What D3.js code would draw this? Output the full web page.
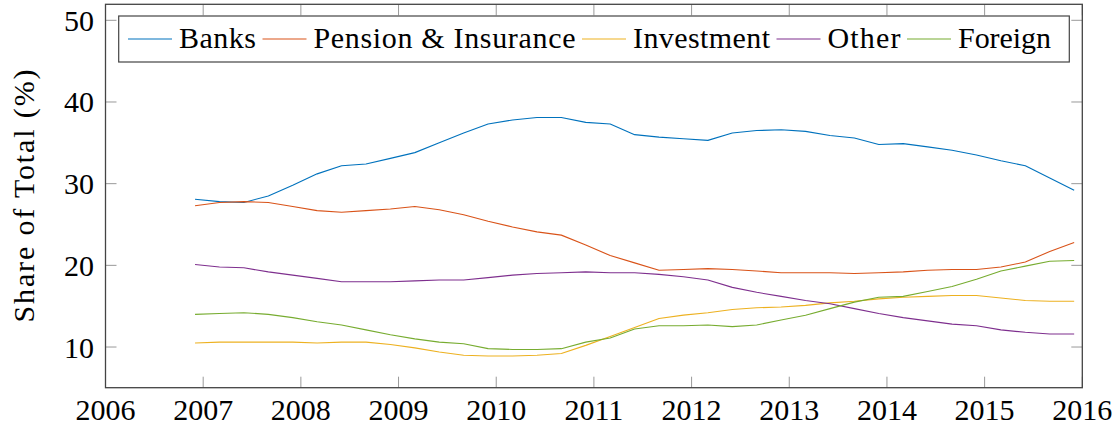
<!DOCTYPE html>
<html>
<head>
<meta charset="utf-8">
<script src="https://cdn.jsdelivr.net/npm/d3@7/dist/d3.min.js"></script>
<style>
  html, body { margin: 0; padding: 0; background: #fff; }
  svg { display: block; }
  text { font-family: "Liberation Serif", "Times New Roman", "DejaVu Serif", serif; }
</style>
</head>
<body>
<svg id="chart" width="1119" height="428"></svg>
<script>
// quarterly observations, Dec 2006 .. Dec 2015
const startYear = 2006 + 11 / 12;
const nQuarters = 37;

const banks = [28.1, 27.8, 27.7, 28.5, 29.8, 31.2, 32.2, 32.4, 33.1, 33.8, 35.0, 36.2, 37.3,
  37.8, 38.1, 38.1, 37.5, 37.3, 36.0, 35.7, 35.5, 35.3, 36.2, 36.5, 36.6, 36.4, 35.9, 35.6,
  34.8, 34.9, 34.5, 34.1, 33.5, 32.8, 32.2, 30.7, 29.2];
const pension = [27.3, 27.7, 27.8, 27.7, 27.2, 26.7, 26.5, 26.7, 26.9, 27.2, 26.8, 26.2, 25.4,
  24.7, 24.1, 23.7, 22.5, 21.2, 20.3, 19.4, 19.5, 19.6, 19.5, 19.3, 19.1, 19.1, 19.1, 19.0,
  19.1, 19.2, 19.4, 19.5, 19.5, 19.8, 20.4, 21.7, 22.8];
const investment = [10.5, 10.6, 10.6, 10.6, 10.6, 10.5, 10.6, 10.6, 10.3, 9.9, 9.4, 9.0, 8.9,
  8.9, 9.0, 9.2, 10.2, 11.3, 12.4, 13.5, 13.9, 14.2, 14.6, 14.8, 14.9, 15.1, 15.4, 15.6,
  15.9, 16.1, 16.2, 16.3, 16.3, 16.0, 15.7, 15.6, 15.6];
const other = [20.1, 19.8, 19.7, 19.2, 18.8, 18.4, 18.0, 18.0, 18.0, 18.1, 18.2, 18.2, 18.5,
  18.8, 19.0, 19.1, 19.2, 19.1, 19.1, 18.9, 18.6, 18.2, 17.3, 16.7, 16.2, 15.7, 15.3, 14.7,
  14.1, 13.6, 13.2, 12.8, 12.6, 12.1, 11.8, 11.6, 11.6];
const foreign = [14.0, 14.1, 14.2, 14.0, 13.6, 13.1, 12.7, 12.1, 11.5, 11.0, 10.6, 10.4, 9.8,
  9.7, 9.7, 9.8, 10.6, 11.1, 12.2, 12.6, 12.6, 12.7, 12.5, 12.7, 13.3, 13.9, 14.7, 15.5,
  16.1, 16.2, 16.8, 17.4, 18.3, 19.3, 19.9, 20.5, 20.6];

const seriesNames = ['Banks', 'Pension & Insurance', 'Investment', 'Other', 'Foreign'];
const seriesColors = ['#0072bd', '#d95319', '#edb120', '#7e2f8e', '#77ac30'];
const allSeries = [banks, pension, investment, other, foreign];

const xTicks = d3.range(2006, 2017);
const yTicks = [10, 20, 30, 40, 50];

const svg = d3.select('#chart');
const plot = { left: 105.5, right: 1082.3, top: 4.3, bottom: 387.7 };

const x = d3.scaleLinear().domain([2006, 2016]).range([plot.left, plot.right]);
const y = d3.scaleLinear().domain([5.02, 51.96]).range([plot.bottom, plot.top]);

const dates = d3.range(nQuarters).map(i => startYear + i * 0.25);

// ticks (inside, on all four sides)
const tickLen = 11;
const ticks = svg.append('g').attr('stroke', '#999').attr('stroke-width', 1);
xTicks.forEach(t => {
  ticks.append('line').attr('x1', x(t)).attr('x2', x(t)).attr('y1', plot.bottom).attr('y2', plot.bottom - tickLen);
  ticks.append('line').attr('x1', x(t)).attr('x2', x(t)).attr('y1', plot.top).attr('y2', plot.top + tickLen);
});
yTicks.forEach(t => {
  ticks.append('line').attr('x1', plot.left).attr('x2', plot.left + tickLen).attr('y1', y(t)).attr('y2', y(t));
  ticks.append('line').attr('x1', plot.right).attr('x2', plot.right - tickLen).attr('y1', y(t)).attr('y2', y(t));
});

// lines
const line = d3.line().x((d, i) => x(dates[i])).y(d => y(d));
svg.append('g').selectAll('path')
  .data(allSeries)
  .join('path')
  .attr('fill', 'none')
  .attr('stroke', (d, i) => seriesColors[i])
  .attr('stroke-width', 1.1)
  .attr('stroke-linejoin', 'round')
  .attr('d', line);

// frame
svg.append('rect')
  .attr('x', plot.left).attr('y', plot.top)
  .attr('width', plot.right - plot.left).attr('height', plot.bottom - plot.top)
  .attr('fill', 'none').attr('stroke', '#444').attr('stroke-width', 1.3);

// tick labels
svg.append('g').selectAll('text')
  .data(xTicks)
  .join('text')
  .attr('x', d => x(d))
  .attr('y', 420)
  .attr('text-anchor', 'middle')
  .attr('font-size', 30)
  .attr('fill', '#000')
  .text(d => d);

svg.append('g').selectAll('text')
  .data(yTicks)
  .join('text')
  .attr('x', 94)
  .attr('y', d => y(d))
  .attr('dy', '0.35em')
  .attr('text-anchor', 'end')
  .attr('font-size', 30)
  .attr('fill', '#000')
  .text(d => d);

svg.append('text')
  .attr('transform', `translate(34,${(plot.top + plot.bottom) / 2}) rotate(-90)`)
  .attr('text-anchor', 'middle')
  .attr('font-size', 30)
  .attr('fill', '#000')
  .attr('textLength', 253)
  .text('Share of Total (%)');

// legend
const legendTextWidths = [77, 262, 137, 73, 93];
const legend = svg.append('g');
legend.append('rect')
  .attr('x', 118.7).attr('y', 16)
  .attr('width', 1069.3 - 118.7).attr('height', 46)
  .attr('fill', '#fff').attr('stroke', '#444').attr('stroke-width', 1.2);
let lx = 128;
seriesNames.forEach((name, i) => {
  legend.append('line')
    .attr('x1', lx).attr('x2', lx + 44)
    .attr('y1', 39).attr('y2', 39)
    .attr('stroke', seriesColors[i]).attr('stroke-width', 1.1);
  legend.append('text')
    .attr('x', lx + 51)
    .attr('y', 48)
    .attr('font-size', 30)
    .attr('fill', '#000')
    .attr('textLength', legendTextWidths[i])
    .text(name);
  lx += 51 + legendTextWidths[i] + 6.5;
});
</script>
</body>
</html>
